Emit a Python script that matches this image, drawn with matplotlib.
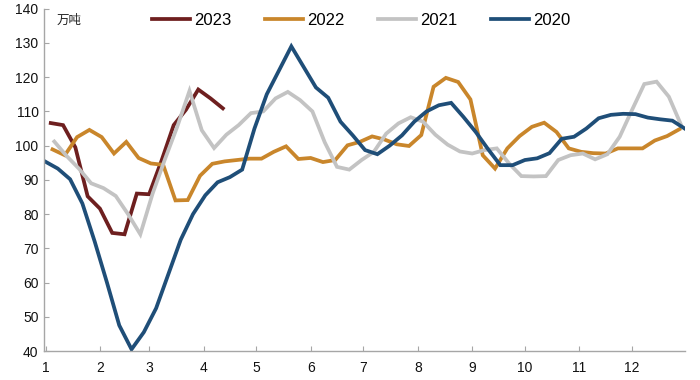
"""Weekly volume (万吨) by year, 2020-2023, plotted on a shared day-of-year axis."""
import matplotlib

matplotlib.use("Agg")

import matplotlib.pyplot as plt
import pandas as pd

plt.rcParams["font.family"] = ["Liberation Sans", "Noto Sans CJK SC"]

# --- data: weekly readings (Wednesdays), first date of each year --------------
YEARS = ["2023", "2022", "2021", "2020"]
START_DATES = ["2023-01-04", "2022-01-05", "2021-01-06", "2020-01-01"]

VALUES_2023 = [106.6, 106.0, 99.5, 85.2, 81.6, 74.5, 74.1, 86.0, 85.8, 95.5,
               106.0, 110.5, 116.4, 113.8, 110.9]
VALUES_2022 = [98.9, 97.2, 102.5, 104.6, 102.5, 97.7, 101.1, 96.4, 94.8, 94.4,
               84.0, 84.1, 91.2, 94.7, 95.4, 95.8, 96.2, 96.2, 98.2, 99.8,
               96.1, 96.4, 95.2, 95.8, 100.1, 101.1, 102.7, 101.8, 100.4, 99.9,
               103.1, 117.2, 119.8, 118.6, 113.5, 97.2, 93.3, 99.2, 102.8, 105.5,
               106.7, 104.0, 99.2, 98.2, 97.8, 97.7, 99.2, 99.2, 99.2, 101.5,
               102.8, 104.8]
VALUES_2021 = [101.2, 97.0, 93.3, 89.0, 87.6, 85.3, 80.0, 74.1, 86.0, 96.0,
               105.5, 116.0, 104.5, 99.3, 103.2, 106.0, 109.5, 110.0, 113.8, 115.7,
               113.3, 110.0, 101.0, 93.8, 93.0, 95.8, 98.2, 103.5, 106.5, 108.3,
               107.0, 103.2, 100.3, 98.3, 97.7, 98.7, 99.2, 94.8, 91.1, 91.0,
               91.1, 95.8, 97.2, 97.7, 96.0, 97.5, 102.6, 110.4, 118.0, 118.7,
               114.3, 106.0]
VALUES_2020 = [95.3, 93.3, 90.2, 83.1, 72.0, 60.0, 47.5, 40.5, 45.5, 52.5,
               62.5, 72.5, 80.0, 85.5, 89.3, 90.8, 93.0, 105.0, 115.0, 122.0,
               129.0, 123.0, 117.0, 114.0, 107.0, 103.0, 98.7, 97.5, 100.0, 103.0,
               107.0, 110.0, 111.8, 112.5, 108.4, 104.0, 99.0, 94.3, 94.3, 95.8,
               96.3, 97.8, 102.0, 102.6, 105.0, 108.0, 109.0, 109.3, 109.2, 108.2,
               107.7, 107.3, 105.0]
SERIES = [VALUES_2023, VALUES_2022, VALUES_2021, VALUES_2020]

MONTH_LABELS = [str(m) for m in range(1, 13)]
UNIT = "万吨"

COLORS = ["#6E1F1F", "#C9862B", "#C3C3C3", "#1F4E78"]
AXIS_GREY = "#A6A6A6"

fig = plt.figure(figsize=(7.0, 3.8), dpi=100)
ax = fig.add_axes([0.063, 0.0763, 0.9156, 0.9007])

for year, start, vals, color in zip(YEARS, START_DATES, SERIES, COLORS):
    dates = pd.date_range(start, periods=len(vals), freq="7D")
    ax.plot(dates.dayofyear - 1, vals, color=color, lw=2.7, label=year,
            solid_joinstyle="miter")

month_starts = pd.date_range("2021-01-01", periods=12, freq="MS").dayofyear - 1
ax.set_xticks(month_starts)
ax.set_xticklabels(MONTH_LABELS)
ax.set_xlim(-0.8, 364.2)
ax.set_ylim(40, 140)
ax.set_yticks(range(40, 141, 10))

for side in ("top", "right"):
    ax.spines[side].set_visible(False)
for side in ("left", "bottom"):
    ax.spines[side].set_color(AXIS_GREY)
    ax.spines[side].set_linewidth(1.0)
ax.tick_params(direction="in", length=3.5, width=0.8, color=AXIS_GREY,
               labelsize=10, labelcolor="#111111")
ax.tick_params(axis="x", pad=7)
ax.tick_params(axis="y", pad=4)

fig.text(57 / 700, 1 - 20 / 380, UNIT, fontsize=9, va="center", ha="left",
         family=["Noto Sans CJK SC", "DejaVu Sans"], color="#222222")

fig.legend(loc="center", bbox_to_anchor=(0.516, 0.947), ncol=4, frameon=False,
           fontsize=12, handlelength=2.3, handletextpad=0.25, columnspacing=2.0,
           borderpad=0)

fig.savefig("out.png", dpi=100)
